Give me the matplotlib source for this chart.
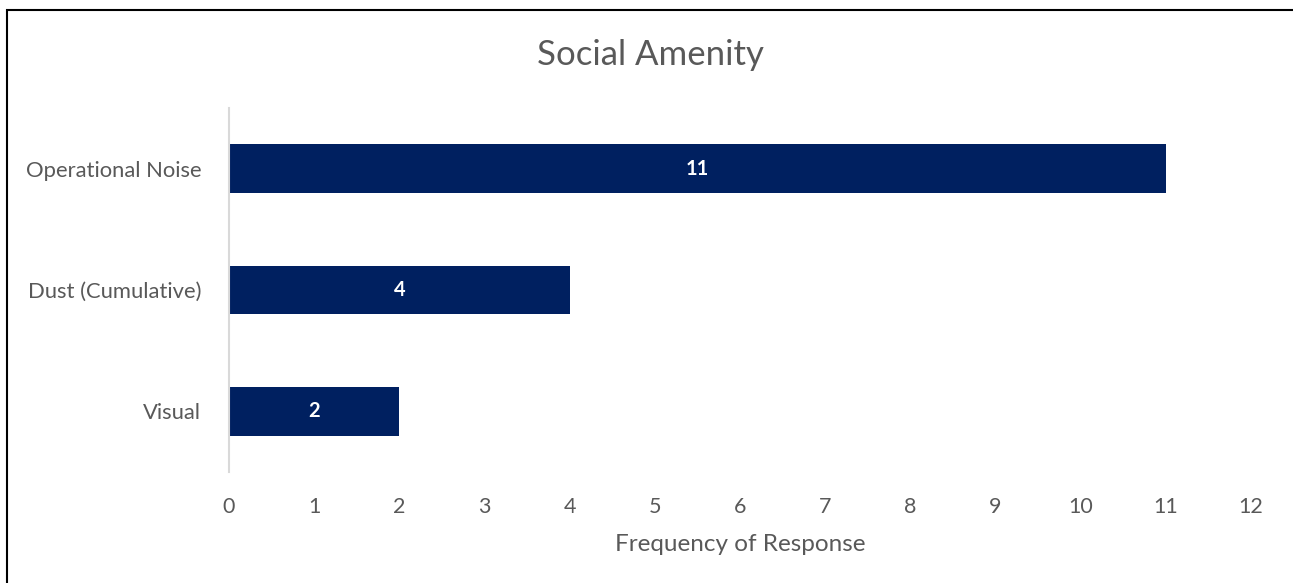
import matplotlib
matplotlib.use("Agg")
import matplotlib.pyplot as plt
from matplotlib.patches import Rectangle

categories = ["Operational Noise", "Dust (Cumulative)", "Visual"]
values = [11, 4, 2]
xticks = list(range(0, 13))

BAR = "#002060"
GREY = "#595959"
FONT = ["Lato", "DejaVu Sans"]

fig = plt.figure(figsize=(12.93, 5.83), dpi=100)
ax = fig.add_axes([229/1293, 1-472/583, (1251-229)/1293, (472-108)/583])

ypos = list(range(len(categories)))
bars = ax.barh(ypos, values, height=0.4, color=BAR)
ax.set_ylim(len(categories)-0.5, -0.5)
ax.set_xlim(0, 12)
ax.set_yticks(ypos)
ax.set_yticklabels(categories, fontsize=15.8, color=GREY, family=FONT)
ax.set_xticks(xticks)
ax.set_xticklabels([str(t) for t in xticks], fontsize=15.5, color=GREY, family=FONT)
ax.tick_params(length=0, pad=20, axis="y")
ax.tick_params(length=0, pad=18, axis="x")
for s in ["top", "right", "bottom"]:
    ax.spines[s].set_visible(False)
ax.spines["left"].set_color("#D9D9D9")
ax.spines["left"].set_linewidth(1.5)

for b, v in zip(bars, values):
    ax.text(b.get_width()/2, b.get_y()+b.get_height()/2, str(v), ha="center", va="center",
            color="white", fontsize=14.5, fontweight="bold", family=FONT)

ax.set_xlabel("Frequency of Response", fontsize=17.5, color=GREY, family=FONT, labelpad=12)
fig.text(650/1293, 1-55/583, "Social Amenity", ha="center", va="center", fontsize=25,
         color=GREY, family=FONT)

fig.patches.append(Rectangle((7/1293, -0.1), 1.2, 1-10/583+0.1, transform=fig.transFigure,
                             fill=False, edgecolor="black", linewidth=1.5))

fig.savefig("out.png", dpi=100)
